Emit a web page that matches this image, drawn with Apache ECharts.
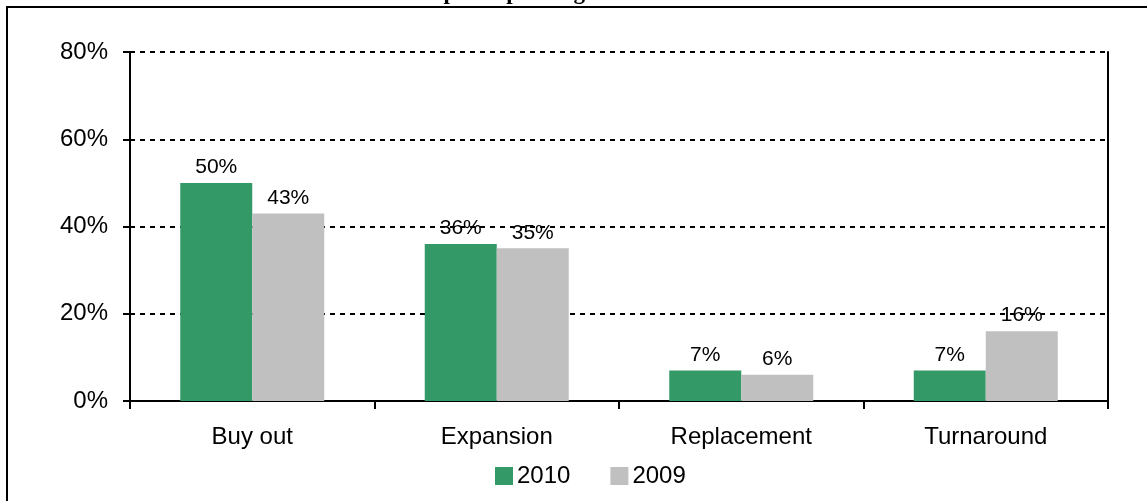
<!DOCTYPE html>
<html>
<head>
<meta charset="utf-8">
<script src="https://cdn.jsdelivr.net/npm/echarts@6/dist/echarts.min.js"></script>
<style>
  html, body { margin: 0; padding: 0; background: #fff; }
  #chart { width: 1147px; height: 501px; }
</style>
</head>
<body>
<div id="chart"></div>
<script>
// Deal types and the share of investments per year
const categories = ['Buy out', 'Expansion', 'Replacement', 'Turnaround'];
const values2010 = [50, 36, 7, 7];
const values2009 = [43, 35, 6, 16];
const yTicks = { min: 0, max: 80, interval: 20 };

const FONT = '"Liberation Sans", Arial, sans-serif';
const chart = echarts.init(document.getElementById('chart'), null, { renderer: 'canvas' });

const barLabel = {
  show: true,
  position: 'top',
  formatter: '{c}%',
  color: '#000',
  fontFamily: FONT,
  fontSize: 21
};

chart.setOption({
  animation: false,
  backgroundColor: '#fff',
  graphic: [
    {
      type: 'rect',
      shape: { x: 7, y: 7, width: 1400, height: 800 },
      style: { fill: 'none', stroke: '#000', lineWidth: 2 },
      z: 10
    },
    {
      type: 'text',
      x: 310,
      y: -7,
      style: {
        text: 'Investments spread per stage',
        font: 'bold 23px "Liberation Serif", "Times New Roman", serif',
        fill: '#000',
        align: 'left',
        verticalAlign: 'middle'
      },
      z: 9
    }
  ],
  legend: {
    data: ['2010', '2009'],
    bottom: 8,
    left: 490,
    itemWidth: 18,
    itemHeight: 18,
    itemGap: 40,
    icon: 'rect',
    textStyle: { fontFamily: FONT, fontSize: 24, color: '#000', padding: [0, 0, 0, -1] }
  },
  grid: { left: 130, right: 39, top: 52, bottom: 100, containLabel: false },
  xAxis: {
    type: 'category',
    data: categories,
    axisLine: { show: true, lineStyle: { color: '#000', width: 2 } },
    axisTick: { show: true, alignWithLabel: false, length: 8, lineStyle: { color: '#000', width: 2 } },
    axisLabel: { color: '#000', fontFamily: FONT, fontSize: 24, margin: 24, interval: 0 },
    splitLine: { show: false }
  },
  yAxis: [
    {
      type: 'value',
      min: yTicks.min,
      max: yTicks.max,
      interval: yTicks.interval,
      axisLine: { show: true, lineStyle: { color: '#000', width: 2 } },
      axisTick: { show: true, length: 7, lineStyle: { color: '#000', width: 2 } },
      axisLabel: { color: '#000', fontFamily: FONT, fontSize: 24, margin: 22, formatter: '{value}%' },
      splitLine: { show: true, lineStyle: { color: '#000', width: 2, type: [5, 5] } }
    },
    {
      type: 'value',
      position: 'right',
      min: yTicks.min,
      max: yTicks.max,
      interval: yTicks.interval,
      axisLine: { show: true, lineStyle: { color: '#000', width: 2 } },
      axisTick: { show: false },
      axisLabel: { show: false },
      splitLine: { show: false }
    }
  ],
  series: [
    {
      name: '2010',
      type: 'bar',
      data: values2010,
      barWidth: 72,
      barGap: '0%',
      itemStyle: { color: '#339966' },
      label: barLabel
    },
    {
      name: '2009',
      type: 'bar',
      data: values2009,
      barWidth: 72,
      barGap: '0%',
      itemStyle: { color: '#C0C0C0' },
      label: barLabel
    }
  ]
});
</script>
</body>
</html>
